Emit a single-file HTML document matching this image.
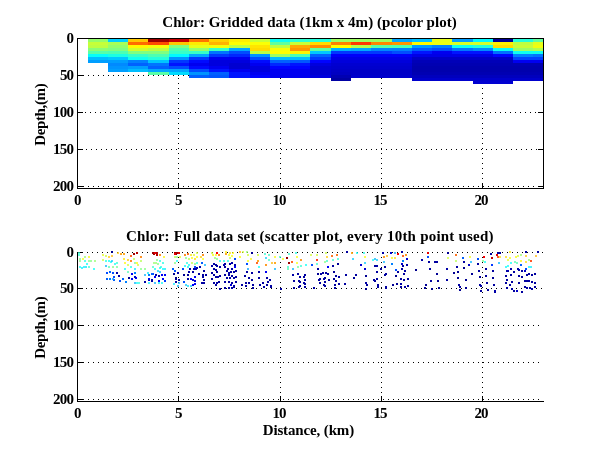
<!DOCTYPE html><html><head><meta charset="utf-8"><title>Chlor</title>
<style>html,body{margin:0;padding:0;background:#fff}svg{display:block}text{font-family:"Liberation Serif",serif;font-weight:bold;fill:#000}</style></head><body>
<svg width="600" height="451" viewBox="0 0 600 451">
<rect width="600" height="451" fill="#fff"/>
<g shape-rendering="crispEdges" stroke="#000" stroke-width="1" stroke-dasharray="1 4" fill="none">
<path d="M78 75.5H543"/>
<path d="M80 112.5H543"/>
<path d="M81 149.5H543"/>
<path d="M78 186.5H543"/>
<path d="M178.5 43V188"/>
<path d="M280.5 43V188"/>
<path d="M381.5 43V188"/>
<path d="M482.5 43V188"/>
</g>
<g shape-rendering="crispEdges" fill="#000">
<rect x="78" y="38" width="5" height="1"/>
<rect x="538" y="38" width="5" height="1"/>
<rect x="78" y="75" width="5" height="1"/>
<rect x="538" y="75" width="5" height="1"/>
<rect x="78" y="112" width="5" height="1"/>
<rect x="538" y="112" width="5" height="1"/>
<rect x="78" y="149" width="5" height="1"/>
<rect x="538" y="149" width="5" height="1"/>
<rect x="78" y="186" width="5" height="1"/>
<rect x="538" y="186" width="5" height="1"/>
<rect x="77" y="183" width="1" height="5"/>
<rect x="77" y="39" width="1" height="5"/>
<rect x="178" y="183" width="1" height="5"/>
<rect x="178" y="39" width="1" height="5"/>
<rect x="280" y="183" width="1" height="5"/>
<rect x="280" y="39" width="1" height="5"/>
<rect x="381" y="183" width="1" height="5"/>
<rect x="381" y="39" width="1" height="5"/>
<rect x="482" y="183" width="1" height="5"/>
<rect x="482" y="39" width="1" height="5"/>
</g>
<g shape-rendering="crispEdges">
<rect x="88" y="39" width="20" height="3" fill="#94ff6b"/>
<rect x="88" y="42" width="20" height="3" fill="#c7ff38"/>
<rect x="88" y="45" width="20" height="3" fill="#bdff42"/>
<rect x="88" y="48" width="20" height="3" fill="#8aff75"/>
<rect x="88" y="51" width="20" height="3" fill="#57ffa8"/>
<rect x="88" y="54" width="20" height="3" fill="#05fffa"/>
<rect x="88" y="57" width="20" height="3" fill="#00bdff"/>
<rect x="88" y="60" width="20" height="3" fill="#009eff"/>
<rect x="108" y="39" width="20" height="3" fill="#00d1ff"/>
<rect x="108" y="42" width="20" height="3" fill="#a8ff57"/>
<rect x="108" y="45" width="20" height="3" fill="#94ff6b"/>
<rect x="108" y="48" width="20" height="3" fill="#80ff80"/>
<rect x="108" y="51" width="20" height="3" fill="#4dffb2"/>
<rect x="108" y="54" width="20" height="3" fill="#1affe5"/>
<rect x="108" y="57" width="20" height="3" fill="#00c7ff"/>
<rect x="108" y="60" width="20" height="3" fill="#009eff"/>
<rect x="108" y="63" width="20" height="3" fill="#008aff"/>
<rect x="108" y="66" width="20" height="3" fill="#0094ff"/>
<rect x="108" y="69" width="20" height="3" fill="#009eff"/>
<rect x="128" y="39" width="20" height="3" fill="#ffc700"/>
<rect x="128" y="42" width="20" height="3" fill="#ff6b00"/>
<rect x="128" y="45" width="20" height="3" fill="#fffa00"/>
<rect x="128" y="48" width="20" height="3" fill="#d1ff2e"/>
<rect x="128" y="51" width="20" height="3" fill="#80ff80"/>
<rect x="128" y="54" width="20" height="3" fill="#38ffc7"/>
<rect x="128" y="57" width="20" height="3" fill="#0ffff0"/>
<rect x="128" y="60" width="20" height="3" fill="#0080ff"/>
<rect x="128" y="63" width="20" height="3" fill="#0061ff"/>
<rect x="128" y="66" width="20" height="3" fill="#009eff"/>
<rect x="128" y="69" width="20" height="3" fill="#00bdff"/>
<rect x="148" y="39" width="21" height="3" fill="#9e0000"/>
<rect x="148" y="42" width="21" height="3" fill="#ff4c00"/>
<rect x="148" y="45" width="21" height="3" fill="#f5ff0a"/>
<rect x="148" y="48" width="21" height="3" fill="#bdff42"/>
<rect x="148" y="51" width="21" height="3" fill="#80ff80"/>
<rect x="148" y="54" width="21" height="3" fill="#4dffb2"/>
<rect x="148" y="57" width="21" height="3" fill="#24ffdb"/>
<rect x="148" y="60" width="21" height="3" fill="#00c7ff"/>
<rect x="148" y="63" width="21" height="3" fill="#0075ff"/>
<rect x="148" y="66" width="21" height="3" fill="#0061ff"/>
<rect x="148" y="69" width="21" height="3" fill="#00a8ff"/>
<rect x="148" y="72" width="21" height="3" fill="#57ffa8"/>
<rect x="169" y="39" width="20" height="3" fill="#c70000"/>
<rect x="169" y="42" width="20" height="3" fill="#ffc700"/>
<rect x="169" y="45" width="20" height="3" fill="#80ff80"/>
<rect x="169" y="48" width="20" height="3" fill="#4dffb2"/>
<rect x="169" y="51" width="20" height="3" fill="#38ffc7"/>
<rect x="169" y="54" width="20" height="3" fill="#00faff"/>
<rect x="169" y="57" width="20" height="3" fill="#0094ff"/>
<rect x="169" y="60" width="20" height="3" fill="#0038ff"/>
<rect x="169" y="63" width="20" height="3" fill="#0014ff"/>
<rect x="169" y="66" width="20" height="3" fill="#004dff"/>
<rect x="169" y="69" width="20" height="3" fill="#00a8ff"/>
<rect x="169" y="72" width="20" height="3" fill="#00dbff"/>
<rect x="189" y="39" width="20" height="3" fill="#ff7500"/>
<rect x="189" y="42" width="20" height="3" fill="#ffeb00"/>
<rect x="189" y="45" width="20" height="3" fill="#e5ff1a"/>
<rect x="189" y="48" width="20" height="3" fill="#94ff6b"/>
<rect x="189" y="51" width="20" height="3" fill="#38ffc7"/>
<rect x="189" y="54" width="20" height="3" fill="#00a8ff"/>
<rect x="189" y="57" width="20" height="3" fill="#0038ff"/>
<rect x="189" y="60" width="20" height="3" fill="#000bff"/>
<rect x="189" y="63" width="20" height="3" fill="#0000f0"/>
<rect x="189" y="66" width="20" height="3" fill="#000bff"/>
<rect x="189" y="69" width="20" height="3" fill="#004dff"/>
<rect x="189" y="72" width="20" height="3" fill="#0094ff"/>
<rect x="189" y="75" width="20" height="3" fill="#0061ff"/>
<rect x="209" y="39" width="20" height="3" fill="#ffd100"/>
<rect x="209" y="42" width="20" height="3" fill="#ffb300"/>
<rect x="209" y="45" width="20" height="3" fill="#f0ff0f"/>
<rect x="209" y="48" width="20" height="3" fill="#38ffc7"/>
<rect x="209" y="51" width="20" height="3" fill="#0075ff"/>
<rect x="209" y="54" width="20" height="3" fill="#0038ff"/>
<rect x="209" y="57" width="20" height="3" fill="#0000f0"/>
<rect x="209" y="60" width="20" height="3" fill="#0000de"/>
<rect x="209" y="63" width="20" height="3" fill="#0000de"/>
<rect x="209" y="66" width="20" height="3" fill="#0000f0"/>
<rect x="209" y="69" width="20" height="3" fill="#0014ff"/>
<rect x="209" y="72" width="20" height="3" fill="#0061ff"/>
<rect x="209" y="75" width="20" height="3" fill="#0057ff"/>
<rect x="229" y="39" width="21" height="3" fill="#fff000"/>
<rect x="229" y="42" width="21" height="3" fill="#ffff00"/>
<rect x="229" y="45" width="21" height="3" fill="#bdff42"/>
<rect x="229" y="48" width="21" height="3" fill="#00a8ff"/>
<rect x="229" y="51" width="21" height="3" fill="#004dff"/>
<rect x="229" y="54" width="21" height="3" fill="#0027ff"/>
<rect x="229" y="57" width="21" height="3" fill="#0000f0"/>
<rect x="229" y="60" width="21" height="3" fill="#0000de"/>
<rect x="229" y="63" width="21" height="3" fill="#0000d1"/>
<rect x="229" y="66" width="21" height="3" fill="#0000d1"/>
<rect x="229" y="69" width="21" height="3" fill="#0000f0"/>
<rect x="229" y="72" width="21" height="3" fill="#0014ff"/>
<rect x="229" y="75" width="21" height="3" fill="#0014ff"/>
<rect x="250" y="39" width="20" height="3" fill="#c7ff38"/>
<rect x="250" y="42" width="20" height="3" fill="#faff05"/>
<rect x="250" y="45" width="20" height="3" fill="#ffe500"/>
<rect x="250" y="48" width="20" height="3" fill="#ffdb00"/>
<rect x="250" y="51" width="20" height="3" fill="#bdff42"/>
<rect x="250" y="54" width="20" height="3" fill="#0094ff"/>
<rect x="250" y="57" width="20" height="3" fill="#004dff"/>
<rect x="250" y="60" width="20" height="3" fill="#000bff"/>
<rect x="250" y="63" width="20" height="3" fill="#0000f0"/>
<rect x="250" y="66" width="20" height="3" fill="#0000de"/>
<rect x="250" y="69" width="20" height="3" fill="#0000de"/>
<rect x="250" y="72" width="20" height="3" fill="#0000f0"/>
<rect x="250" y="75" width="20" height="3" fill="#0003ff"/>
<rect x="270" y="39" width="20" height="3" fill="#0ffff0"/>
<rect x="270" y="42" width="20" height="3" fill="#61ff9e"/>
<rect x="270" y="45" width="20" height="3" fill="#bdff42"/>
<rect x="270" y="48" width="20" height="3" fill="#faff05"/>
<rect x="270" y="51" width="20" height="3" fill="#ffff00"/>
<rect x="270" y="54" width="20" height="3" fill="#9eff61"/>
<rect x="270" y="57" width="20" height="3" fill="#00bdff"/>
<rect x="270" y="60" width="20" height="3" fill="#0061ff"/>
<rect x="270" y="63" width="20" height="3" fill="#0027ff"/>
<rect x="270" y="66" width="20" height="3" fill="#0003ff"/>
<rect x="270" y="69" width="20" height="3" fill="#0000f0"/>
<rect x="270" y="72" width="20" height="3" fill="#0000f0"/>
<rect x="270" y="75" width="20" height="3" fill="#0000f0"/>
<rect x="290" y="39" width="20" height="3" fill="#2effd1"/>
<rect x="290" y="42" width="20" height="3" fill="#c7ff38"/>
<rect x="290" y="45" width="20" height="3" fill="#ffa800"/>
<rect x="290" y="48" width="20" height="3" fill="#ff9400"/>
<rect x="290" y="51" width="20" height="3" fill="#fff500"/>
<rect x="290" y="54" width="20" height="3" fill="#4dffb2"/>
<rect x="290" y="57" width="20" height="3" fill="#00bdff"/>
<rect x="290" y="60" width="20" height="3" fill="#0057ff"/>
<rect x="290" y="63" width="20" height="3" fill="#0014ff"/>
<rect x="290" y="66" width="20" height="3" fill="#0003ff"/>
<rect x="290" y="69" width="20" height="3" fill="#0000f0"/>
<rect x="290" y="72" width="20" height="3" fill="#0000f0"/>
<rect x="290" y="75" width="20" height="3" fill="#0000f0"/>
<rect x="310" y="39" width="21" height="3" fill="#24ffdb"/>
<rect x="310" y="42" width="21" height="3" fill="#ffdb00"/>
<rect x="310" y="45" width="21" height="3" fill="#ff8a00"/>
<rect x="310" y="48" width="21" height="3" fill="#61ff9e"/>
<rect x="310" y="51" width="21" height="3" fill="#00c7ff"/>
<rect x="310" y="54" width="21" height="3" fill="#0061ff"/>
<rect x="310" y="57" width="21" height="3" fill="#0038ff"/>
<rect x="310" y="60" width="21" height="3" fill="#0003ff"/>
<rect x="310" y="63" width="21" height="3" fill="#0000de"/>
<rect x="310" y="66" width="21" height="3" fill="#0000d1"/>
<rect x="310" y="69" width="21" height="3" fill="#0000d1"/>
<rect x="310" y="72" width="21" height="3" fill="#0000d1"/>
<rect x="310" y="75" width="21" height="3" fill="#0000de"/>
<rect x="331" y="39" width="20" height="3" fill="#9eff61"/>
<rect x="331" y="42" width="20" height="3" fill="#ff8000"/>
<rect x="331" y="45" width="20" height="3" fill="#ffff00"/>
<rect x="331" y="48" width="20" height="3" fill="#00b2ff"/>
<rect x="331" y="51" width="20" height="3" fill="#0038ff"/>
<rect x="331" y="54" width="20" height="3" fill="#0000fa"/>
<rect x="331" y="57" width="20" height="3" fill="#0000e6"/>
<rect x="331" y="60" width="20" height="3" fill="#0000db"/>
<rect x="331" y="63" width="20" height="3" fill="#0000d1"/>
<rect x="331" y="66" width="20" height="3" fill="#0000cc"/>
<rect x="331" y="69" width="20" height="3" fill="#0000c7"/>
<rect x="331" y="72" width="20" height="3" fill="#0000c2"/>
<rect x="331" y="75" width="20" height="3" fill="#0000b2"/>
<rect x="331" y="78" width="20" height="3" fill="#0000a3"/>
<rect x="351" y="39" width="20" height="3" fill="#9eff61"/>
<rect x="351" y="42" width="20" height="3" fill="#ff3800"/>
<rect x="351" y="45" width="20" height="3" fill="#b3ff4c"/>
<rect x="351" y="48" width="20" height="3" fill="#00a8ff"/>
<rect x="351" y="51" width="20" height="3" fill="#0038ff"/>
<rect x="351" y="54" width="20" height="3" fill="#0000fa"/>
<rect x="351" y="57" width="20" height="3" fill="#0000e6"/>
<rect x="351" y="60" width="20" height="3" fill="#0000db"/>
<rect x="351" y="63" width="20" height="3" fill="#0000d1"/>
<rect x="351" y="66" width="20" height="3" fill="#0000cc"/>
<rect x="351" y="69" width="20" height="3" fill="#0000c7"/>
<rect x="351" y="72" width="20" height="3" fill="#0000c7"/>
<rect x="351" y="75" width="20" height="3" fill="#0000cc"/>
<rect x="371" y="39" width="21" height="3" fill="#9eff61"/>
<rect x="371" y="42" width="21" height="3" fill="#ff8500"/>
<rect x="371" y="45" width="21" height="3" fill="#57ffa8"/>
<rect x="371" y="48" width="21" height="3" fill="#0085ff"/>
<rect x="371" y="51" width="21" height="3" fill="#0038ff"/>
<rect x="371" y="54" width="21" height="3" fill="#0000fa"/>
<rect x="371" y="57" width="21" height="3" fill="#0000e6"/>
<rect x="371" y="60" width="21" height="3" fill="#0000db"/>
<rect x="371" y="63" width="21" height="3" fill="#0000d1"/>
<rect x="371" y="66" width="21" height="3" fill="#0000cc"/>
<rect x="371" y="69" width="21" height="3" fill="#0000c7"/>
<rect x="371" y="72" width="21" height="3" fill="#0000c7"/>
<rect x="371" y="75" width="21" height="3" fill="#0000cc"/>
<rect x="392" y="39" width="20" height="3" fill="#00a8ff"/>
<rect x="392" y="42" width="20" height="3" fill="#ff9400"/>
<rect x="392" y="45" width="20" height="3" fill="#4dffb2"/>
<rect x="392" y="48" width="20" height="3" fill="#0080ff"/>
<rect x="392" y="51" width="20" height="3" fill="#004dff"/>
<rect x="392" y="54" width="20" height="3" fill="#0000fa"/>
<rect x="392" y="57" width="20" height="3" fill="#0000e6"/>
<rect x="392" y="60" width="20" height="3" fill="#0000db"/>
<rect x="392" y="63" width="20" height="3" fill="#0000d1"/>
<rect x="392" y="66" width="20" height="3" fill="#0000cc"/>
<rect x="392" y="69" width="20" height="3" fill="#0000c7"/>
<rect x="392" y="72" width="20" height="3" fill="#0000c7"/>
<rect x="392" y="75" width="20" height="3" fill="#0000cc"/>
<rect x="412" y="39" width="20" height="3" fill="#00c2ff"/>
<rect x="412" y="42" width="20" height="3" fill="#fffa00"/>
<rect x="412" y="45" width="20" height="3" fill="#0099ff"/>
<rect x="412" y="48" width="20" height="3" fill="#005cff"/>
<rect x="412" y="51" width="20" height="3" fill="#0014ff"/>
<rect x="412" y="54" width="20" height="3" fill="#0000e6"/>
<rect x="412" y="57" width="20" height="3" fill="#0000c7"/>
<rect x="412" y="60" width="20" height="3" fill="#0000b8"/>
<rect x="412" y="63" width="20" height="3" fill="#0000b2"/>
<rect x="412" y="66" width="20" height="3" fill="#0000ad"/>
<rect x="412" y="69" width="20" height="3" fill="#0000ad"/>
<rect x="412" y="72" width="20" height="3" fill="#0000b2"/>
<rect x="412" y="75" width="20" height="3" fill="#0000bd"/>
<rect x="412" y="78" width="20" height="3" fill="#0000cc"/>
<rect x="432" y="39" width="20" height="3" fill="#e5ff1a"/>
<rect x="432" y="42" width="20" height="3" fill="#ebff14"/>
<rect x="432" y="45" width="20" height="3" fill="#0080ff"/>
<rect x="432" y="48" width="20" height="3" fill="#004dff"/>
<rect x="432" y="51" width="20" height="3" fill="#0000f0"/>
<rect x="432" y="54" width="20" height="3" fill="#0000e6"/>
<rect x="432" y="57" width="20" height="3" fill="#0000c7"/>
<rect x="432" y="60" width="20" height="3" fill="#0000b8"/>
<rect x="432" y="63" width="20" height="3" fill="#0000b2"/>
<rect x="432" y="66" width="20" height="3" fill="#0000ad"/>
<rect x="432" y="69" width="20" height="3" fill="#0000ad"/>
<rect x="432" y="72" width="20" height="3" fill="#0000b2"/>
<rect x="432" y="75" width="20" height="3" fill="#0000bd"/>
<rect x="432" y="78" width="20" height="3" fill="#0000cc"/>
<rect x="452" y="39" width="21" height="3" fill="#009eff"/>
<rect x="452" y="42" width="21" height="3" fill="#d6ff29"/>
<rect x="452" y="45" width="21" height="3" fill="#0ffff0"/>
<rect x="452" y="48" width="21" height="3" fill="#0075ff"/>
<rect x="452" y="51" width="21" height="3" fill="#0014ff"/>
<rect x="452" y="54" width="21" height="3" fill="#0000e6"/>
<rect x="452" y="57" width="21" height="3" fill="#0000c7"/>
<rect x="452" y="60" width="21" height="3" fill="#0000b8"/>
<rect x="452" y="63" width="21" height="3" fill="#0000b2"/>
<rect x="452" y="66" width="21" height="3" fill="#0000ad"/>
<rect x="452" y="69" width="21" height="3" fill="#0000ad"/>
<rect x="452" y="72" width="21" height="3" fill="#0000b2"/>
<rect x="452" y="75" width="21" height="3" fill="#0000bd"/>
<rect x="452" y="78" width="21" height="3" fill="#0000cc"/>
<rect x="473" y="39" width="20" height="3" fill="#00faff"/>
<rect x="473" y="42" width="20" height="3" fill="#d1ff2e"/>
<rect x="473" y="45" width="20" height="3" fill="#24ffdb"/>
<rect x="473" y="48" width="20" height="3" fill="#008aff"/>
<rect x="473" y="51" width="20" height="3" fill="#0014ff"/>
<rect x="473" y="54" width="20" height="3" fill="#0000e6"/>
<rect x="473" y="57" width="20" height="3" fill="#0000c7"/>
<rect x="473" y="60" width="20" height="3" fill="#0000b8"/>
<rect x="473" y="63" width="20" height="3" fill="#0000b2"/>
<rect x="473" y="66" width="20" height="3" fill="#0000ad"/>
<rect x="473" y="69" width="20" height="3" fill="#0000ad"/>
<rect x="473" y="72" width="20" height="3" fill="#0000b2"/>
<rect x="473" y="75" width="20" height="3" fill="#0000bd"/>
<rect x="473" y="78" width="20" height="3" fill="#0000cc"/>
<rect x="473" y="81" width="20" height="3" fill="#0000d1"/>
<rect x="493" y="39" width="20" height="3" fill="#000094"/>
<rect x="493" y="42" width="20" height="3" fill="#fff000"/>
<rect x="493" y="45" width="20" height="3" fill="#ffdb00"/>
<rect x="493" y="48" width="20" height="3" fill="#0afff5"/>
<rect x="493" y="51" width="20" height="3" fill="#0070ff"/>
<rect x="493" y="54" width="20" height="3" fill="#0005ff"/>
<rect x="493" y="57" width="20" height="3" fill="#0000c7"/>
<rect x="493" y="60" width="20" height="3" fill="#0000b8"/>
<rect x="493" y="63" width="20" height="3" fill="#0000b2"/>
<rect x="493" y="66" width="20" height="3" fill="#0000ad"/>
<rect x="493" y="69" width="20" height="3" fill="#0000ad"/>
<rect x="493" y="72" width="20" height="3" fill="#0000b2"/>
<rect x="493" y="75" width="20" height="3" fill="#0000bd"/>
<rect x="493" y="78" width="20" height="3" fill="#0000cc"/>
<rect x="493" y="81" width="20" height="3" fill="#0000d1"/>
<rect x="513" y="39" width="20" height="3" fill="#24ffdb"/>
<rect x="513" y="42" width="20" height="3" fill="#bdff42"/>
<rect x="513" y="45" width="20" height="3" fill="#c7ff38"/>
<rect x="513" y="48" width="20" height="3" fill="#9eff61"/>
<rect x="513" y="51" width="20" height="3" fill="#0ffff0"/>
<rect x="513" y="54" width="20" height="3" fill="#0080ff"/>
<rect x="513" y="57" width="20" height="3" fill="#0042ff"/>
<rect x="513" y="60" width="20" height="3" fill="#0000f0"/>
<rect x="513" y="63" width="20" height="3" fill="#0000b2"/>
<rect x="513" y="66" width="20" height="3" fill="#0000ad"/>
<rect x="513" y="69" width="20" height="3" fill="#0000ad"/>
<rect x="513" y="72" width="20" height="3" fill="#0000b2"/>
<rect x="513" y="75" width="20" height="3" fill="#0000bd"/>
<rect x="513" y="78" width="20" height="3" fill="#0000cc"/>
<rect x="533" y="39" width="11" height="3" fill="#61ff9e"/>
<rect x="533" y="42" width="11" height="3" fill="#e5ff1a"/>
<rect x="533" y="45" width="11" height="3" fill="#f0ff0f"/>
<rect x="533" y="48" width="11" height="3" fill="#b3ff4c"/>
<rect x="533" y="51" width="11" height="3" fill="#0ffff0"/>
<rect x="533" y="54" width="11" height="3" fill="#0075ff"/>
<rect x="533" y="57" width="11" height="3" fill="#0042ff"/>
<rect x="533" y="60" width="11" height="3" fill="#0000f0"/>
<rect x="533" y="63" width="11" height="3" fill="#0000b2"/>
<rect x="533" y="66" width="11" height="3" fill="#0000ad"/>
<rect x="533" y="69" width="11" height="3" fill="#0000ad"/>
<rect x="533" y="72" width="11" height="3" fill="#0000b2"/>
<rect x="533" y="75" width="11" height="3" fill="#0000bd"/>
<rect x="533" y="78" width="11" height="3" fill="#0000cc"/>
</g>
<g shape-rendering="crispEdges" fill="#000">
<rect x="77" y="38" width="1" height="151"/>
<rect x="77" y="188" width="467" height="1"/>
<rect x="77" y="38" width="467" height="1"/>
<rect x="543" y="38" width="1" height="151"/>
</g>
<text x="74" y="43" font-size="15" text-anchor="end" textLength="7">0</text>
<text x="74" y="80" font-size="15" text-anchor="end" textLength="14">50</text>
<text x="74" y="117" font-size="15" text-anchor="end" textLength="21">100</text>
<text x="74" y="154" font-size="15" text-anchor="end" textLength="21">150</text>
<text x="74" y="191" font-size="15" text-anchor="end" textLength="21">200</text>
<text x="74.0" y="205" font-size="15" textLength="7">0</text>
<text x="175.0" y="205" font-size="15" textLength="7">5</text>
<text x="272.5" y="205" font-size="15" textLength="14">10</text>
<text x="373.5" y="205" font-size="15" textLength="14">15</text>
<text x="474.5" y="205" font-size="15" textLength="14">20</text>
<g shape-rendering="crispEdges" stroke="#000" stroke-width="1" stroke-dasharray="1 4" fill="none">
<path d="M77 252.5H543"/>
<path d="M81 288.5H543"/>
<path d="M78 325.5H543"/>
<path d="M78 362.5H543"/>
<path d="M78 399.5H543"/>
<path d="M178.5 257V401"/>
<path d="M280.5 257V401"/>
<path d="M381.5 257V401"/>
<path d="M482.5 257V401"/>
</g>
<g shape-rendering="crispEdges" fill="#000">
<rect x="78" y="252" width="5" height="1"/>
<rect x="78" y="288" width="5" height="1"/>
<rect x="78" y="325" width="5" height="1"/>
<rect x="78" y="362" width="5" height="1"/>
<rect x="78" y="399" width="5" height="1"/>
<rect x="77" y="396" width="1" height="5"/>
<rect x="178" y="396" width="1" height="5"/>
<rect x="280" y="396" width="1" height="5"/>
<rect x="381" y="396" width="1" height="5"/>
<rect x="482" y="396" width="1" height="5"/>
</g>
<g shape-rendering="crispEdges" fill="#000">
<rect x="77" y="252" width="1" height="150"/>
<rect x="77" y="401" width="467" height="1"/>
</g>
<text x="74" y="257" font-size="15" text-anchor="end" textLength="7">0</text>
<text x="74" y="293" font-size="15" text-anchor="end" textLength="14">50</text>
<text x="74" y="330" font-size="15" text-anchor="end" textLength="21">100</text>
<text x="74" y="367" font-size="15" text-anchor="end" textLength="21">150</text>
<text x="74" y="404" font-size="15" text-anchor="end" textLength="21">200</text>
<text x="74.0" y="418" font-size="15" textLength="7">0</text>
<text x="175.0" y="418" font-size="15" textLength="7">5</text>
<text x="272.5" y="418" font-size="15" textLength="14">10</text>
<text x="373.5" y="418" font-size="15" textLength="14">15</text>
<text x="474.5" y="418" font-size="15" textLength="14">20</text>
<g shape-rendering="crispEdges">
<path fill="#2effd1" opacity=".7" d="M78 252h2v2h-2zM78 254h2v2h-2zM88 266h2v2h-2zM116 262h2v2h-2zM264 253h2v2h-2zM288 253h2v2h-2zM300 265h2v2h-2zM316 263h2v2h-2zM337 258h2v2h-2z"/>
<path fill="#80ff80" opacity=".7" d="M79 258h2v2h-2zM79 260h2v2h-2zM88 260h2v2h-2zM90 260h2v2h-2zM112 266h2v2h-2zM134 262h2v2h-2zM176 256h2v2h-2zM185 257h2v2h-2zM156 259h2v2h-2zM157 263h2v2h-2zM174 262h2v2h-2zM194 263h2v2h-2zM140 268h2v2h-2zM144 268h2v2h-2zM216 258h2v2h-2zM324 261h2v2h-2zM482 260h2v2h-2z"/>
<path fill="#05fffa" opacity=".7" d="M79 266h2v2h-2zM86 263h2v2h-2zM93 268h2v2h-2zM108 260h2v2h-2zM110 261h2v2h-2zM114 263h2v2h-2zM124 268h2v2h-2zM176 260h2v2h-2zM188 264h2v2h-2zM184 265h2v2h-2zM154 268h2v2h-2zM159 267h2v2h-2zM136 282h2v2h-2zM161 282h2v2h-2zM219 260h2v2h-2zM258 266h2v2h-2zM305 264h2v2h-2zM356 252h2v2h-2zM372 259h2v2h-2zM484 261h2v2h-2zM510 262h2v2h-2zM507 265h2v2h-2z"/>
<path fill="#00f0ff" opacity=".7" d="M81 267h2v2h-2zM83 266h2v2h-2zM134 268h2v2h-2zM187 266h2v2h-2zM164 268h2v2h-2zM147 272h2v2h-2zM148 282h2v2h-2zM158 282h2v2h-2zM173 283h2v2h-2zM530 266h2v2h-2z"/>
<path fill="#faff05" opacity=".7" d="M82 258h2v2h-2zM191 257h2v2h-2zM196 256h2v2h-2zM202 258h2v2h-2zM212 254h2v2h-2zM228 254h2v2h-2zM231 255h2v2h-2zM239 256h2v2h-2zM247 260h2v2h-2zM274 256h2v2h-2zM282 258h2v2h-2zM296 256h2v2h-2zM296 262h2v2h-2zM364 256h2v2h-2zM469 256h2v2h-2zM509 257h2v2h-2zM520 260h2v2h-2z"/>
<path fill="#94ff6b" opacity=".7" d="M84 256h2v2h-2zM94 260h2v2h-2zM153 262h2v2h-2zM155 262h2v2h-2zM246 251h2v2h-2zM214 257h2v2h-2zM520 254h2v2h-2zM528 259h2v2h-2z"/>
<path fill="#1affe5" opacity=".7" d="M84 260h2v2h-2zM105 260h2v2h-2zM130 266h2v2h-2zM159 260h2v2h-2zM162 262h2v2h-2zM186 262h2v2h-2zM160 266h2v2h-2zM138 282h2v2h-2zM223 260h2v2h-2zM227 260h2v2h-2zM196 262h2v2h-2zM295 252h2v2h-2zM363 252h2v2h-2z"/>
<path fill="#00e5ff" opacity=".7" d="M85 266h2v2h-2zM187 285h2v2h-2z"/>
<path fill="#fffa00" opacity=".7" d="M88 256h2v2h-2zM124 262h2v2h-2zM163 256h2v2h-2zM136 262h2v2h-2zM215 254h2v2h-2zM225 251h2v2h-2zM232 252h2v2h-2zM250 258h2v2h-2zM391 257h2v2h-2zM515 256h2v2h-2z"/>
<path fill="#e5ff1a" opacity=".7" d="M102 254h2v2h-2zM193 254h2v2h-2zM179 256h2v2h-2zM507 259h2v2h-2z"/>
<path fill="#d1ff2e" opacity=".7" d="M102 259h2v2h-2zM105 255h2v2h-2zM127 264h2v2h-2zM137 264h2v2h-2zM196 252h2v2h-2zM211 252h2v2h-2zM242 251h2v2h-2zM247 254h2v2h-2zM257 254h2v2h-2zM310 254h2v2h-2zM316 254h2v2h-2zM447 257h2v2h-2zM517 255h2v2h-2z"/>
<path fill="#00b2ff" opacity=".7" d="M105 265h2v2h-2zM134 282h2v2h-2zM159 271h2v2h-2zM144 274h2v2h-2zM154 282h2v2h-2zM178 282h2v2h-2zM177 285h2v2h-2zM204 264h2v2h-2zM274 268h2v2h-2zM292 268h2v2h-2zM374 258h2v2h-2zM383 261h2v2h-2zM470 261h2v2h-2zM498 262h2v2h-2z"/>
<path fill="#ffc700" opacity=".7" d="M108 256h2v2h-2zM117 252h2v2h-2zM127 259h2v2h-2zM200 256h2v2h-2zM326 256h2v2h-2zM525 255h2v2h-2z"/>
<path fill="#4dffb2" opacity=".7" d="M108 266h2v2h-2zM127 271h2v2h-2zM287 268h2v2h-2zM514 261h2v2h-2zM516 262h2v2h-2z"/>
<path fill="#00008c" d="M111 251h2v2h-2zM175 277h2v2h-2zM365 288h2v2h-2zM415 269h2v2h-2zM395 275h2v2h-2zM431 288h2v2h-2zM463 267h2v2h-2z"/>
<path fill="#ffb300" opacity=".7" d="M111 255h2v2h-2zM239 251h2v2h-2zM271 262h2v2h-2zM386 255h2v2h-2zM535 255h2v2h-2z"/>
<path fill="#00d1ff" opacity=".7" d="M111 260h2v2h-2zM157 270h2v2h-2zM265 257h2v2h-2z"/>
<path fill="#6bff94" opacity=".7" d="M116 266h2v2h-2zM297 266h2v2h-2z"/>
<path fill="#004dff" d="M106 272h2v2h-2zM112 272h2v2h-2zM113 276h2v2h-2zM119 280h2v2h-2zM194 266h2v2h-2zM174 270h2v2h-2zM182 268h2v2h-2zM152 273h2v2h-2zM183 281h2v2h-2zM234 258h2v2h-2zM246 263h2v2h-2zM311 264h2v2h-2zM427 256h2v2h-2zM395 269h2v2h-2zM477 258h2v2h-2zM525 268h2v2h-2z"/>
<path fill="#0061ff" d="M109 271h2v2h-2zM106 278h2v2h-2zM113 279h2v2h-2zM122 278h2v2h-2zM172 268h2v2h-2zM151 273h2v2h-2zM201 262h2v2h-2zM462 257h2v2h-2zM520 264h2v2h-2z"/>
<path fill="#0000a8" d="M116 272h2v2h-2zM118 275h2v2h-2zM193 268h2v2h-2zM155 274h2v2h-2zM158 275h2v2h-2zM177 272h2v2h-2zM188 271h2v2h-2zM151 279h2v2h-2zM151 280h2v2h-2zM144 281h2v2h-2zM199 266h2v2h-2zM196 267h2v2h-2zM195 268h2v2h-2zM211 265h2v2h-2zM219 266h2v2h-2zM223 264h2v2h-2zM229 263h2v2h-2zM231 262h2v2h-2zM234 264h2v2h-2zM231 268h2v2h-2zM228 272h2v2h-2zM215 284h2v2h-2zM219 288h2v2h-2zM258 271h2v2h-2zM292 274h2v2h-2zM382 252h2v2h-2zM421 259h2v2h-2zM376 265h2v2h-2zM446 268h2v2h-2zM494 290h2v2h-2zM494 291h2v2h-2zM510 268h2v2h-2zM517 268h2v2h-2zM518 269h2v2h-2zM506 270h2v2h-2zM507 270h2v2h-2z"/>
<path fill="#0080ff" d="M109 278h2v2h-2zM125 281h2v2h-2zM134 272h2v2h-2zM148 274h2v2h-2zM391 263h2v2h-2zM402 260h2v2h-2z"/>
<path fill="#009eff" opacity=".7" d="M112 278h2v2h-2zM247 268h2v2h-2zM394 252h2v2h-2z"/>
<path fill="#ff9e00" opacity=".85" d="M120 253h2v2h-2zM123 253h2v2h-2zM225 253h2v2h-2zM257 260h2v2h-2zM274 262h2v2h-2zM351 252h2v2h-2z"/>
<path fill="#ffe500" opacity=".7" d="M123 258h2v2h-2zM190 254h2v2h-2zM229 252h2v2h-2zM509 251h2v2h-2z"/>
<path fill="#ff4c00" opacity=".85" d="M130 255h2v2h-2zM256 262h2v2h-2zM291 261h2v2h-2zM402 255h2v2h-2z"/>
<path fill="#ff7500" opacity=".85" d="M130 260h2v2h-2z"/>
<path fill="#9e0000" d="M133 253h2v2h-2zM152 252h2v2h-2zM153 253h2v2h-2zM175 253h2v2h-2zM174 252h2v2h-2zM176 252h2v2h-2zM288 262h2v2h-2z"/>
<path fill="#b3ff4c" opacity=".7" d="M133 258h2v2h-2zM174 256h2v2h-2zM188 258h2v2h-2zM140 260h2v2h-2zM455 260h2v2h-2z"/>
<path fill="#0000f5" d="M131 273h2v2h-2zM131 278h2v2h-2zM154 276h2v2h-2zM161 274h2v2h-2zM164 274h2v2h-2zM194 276h2v2h-2zM135 277h2v2h-2zM148 278h2v2h-2zM158 280h2v2h-2zM162 278h2v2h-2zM190 278h2v2h-2zM192 284h2v2h-2zM194 283h2v2h-2zM234 266h2v2h-2zM265 271h2v2h-2zM327 266h2v2h-2z"/>
<path fill="#000094" d="M128 277h2v2h-2zM173 273h2v2h-2zM183 274h2v2h-2zM187 274h2v2h-2zM175 278h2v2h-2zM251 252h2v2h-2zM293 287h2v2h-2zM337 263h2v2h-2zM333 271h2v2h-2zM317 273h2v2h-2zM353 277h2v2h-2zM365 275h2v2h-2zM333 278h2v2h-2zM380 268h2v2h-2zM396 283h2v2h-2zM392 284h2v2h-2zM425 284h2v2h-2zM424 287h2v2h-2zM447 252h2v2h-2zM457 271h2v2h-2zM453 272h2v2h-2zM436 273h2v2h-2zM471 273h2v2h-2zM479 276h2v2h-2zM457 277h2v2h-2zM492 277h2v2h-2zM465 279h2v2h-2zM437 280h2v2h-2zM438 287h2v2h-2zM465 287h2v2h-2zM459 289h2v2h-2z"/>
<path fill="#0000c7" d="M134 276h2v2h-2zM401 263h2v2h-2zM468 264h2v2h-2zM524 270h2v2h-2zM516 290h2v2h-2z"/>
<path fill="#b30000" d="M136 252h2v2h-2zM156 254h2v2h-2zM156 252h2v2h-2z"/>
<path fill="#ff8000" opacity=".85" d="M140 256h2v2h-2zM159 254h2v2h-2zM184 254h2v2h-2zM202 254h2v2h-2zM218 254h2v2h-2z"/>
<path fill="#e50000" d="M154 252h2v2h-2zM174 253h2v2h-2zM178 252h2v2h-2zM427 252h2v2h-2zM496 254h2v2h-2z"/>
<path fill="#ff6100" opacity=".85" d="M187 253h2v2h-2zM331 255h2v2h-2zM455 254h2v2h-2z"/>
<path fill="#ffdb00" opacity=".7" d="M194 258h2v2h-2zM394 257h2v2h-2zM499 256h2v2h-2zM505 256h2v2h-2zM525 261h2v2h-2z"/>
<path fill="#bdff42" opacity=".7" d="M191 262h2v2h-2zM229 257h2v2h-2z"/>
<path fill="#38ffc7" opacity=".7" d="M152 266h2v2h-2zM268 254h2v2h-2zM268 259h2v2h-2zM279 256h2v2h-2zM287 266h2v2h-2zM326 260h2v2h-2zM332 259h2v2h-2z"/>
<path fill="#00faff" opacity=".7" d="M162 268h2v2h-2zM505 266h2v2h-2zM528 266h2v2h-2z"/>
<path fill="#0000a0" d="M189 268h2v2h-2zM192 271h2v2h-2zM178 279h2v2h-2zM187 278h2v2h-2zM175 281h2v2h-2zM213 263h2v2h-2zM215 264h2v2h-2zM216 265h2v2h-2zM224 263h2v2h-2zM224 266h2v2h-2zM227 268h2v2h-2zM203 270h2v2h-2zM213 268h2v2h-2zM215 269h2v2h-2zM216 271h2v2h-2zM211 272h2v2h-2zM226 270h2v2h-2zM230 271h2v2h-2zM233 271h2v2h-2zM235 270h2v2h-2zM246 271h2v2h-2zM251 272h2v2h-2zM198 273h2v2h-2zM202 274h2v2h-2zM205 274h2v2h-2zM202 276h2v2h-2zM213 274h2v2h-2zM215 276h2v2h-2zM217 276h2v2h-2zM219 275h2v2h-2zM224 274h2v2h-2zM228 274h2v2h-2zM231 275h2v2h-2zM226 277h2v2h-2zM229 277h2v2h-2zM233 277h2v2h-2zM235 276h2v2h-2zM244 275h2v2h-2zM248 277h2v2h-2zM211 278h2v2h-2zM203 279h2v2h-2zM251 279h2v2h-2zM201 282h2v2h-2zM203 282h2v2h-2zM213 282h2v2h-2zM218 281h2v2h-2zM216 282h2v2h-2zM224 281h2v2h-2zM228 281h2v2h-2zM231 282h2v2h-2zM235 281h2v2h-2zM233 285h2v2h-2zM245 282h2v2h-2zM248 282h2v2h-2zM241 284h2v2h-2zM245 285h2v2h-2zM252 284h2v2h-2zM224 287h2v2h-2zM228 287h2v2h-2zM231 287h2v2h-2zM233 286h2v2h-2zM252 287h2v2h-2zM258 277h2v2h-2zM266 277h2v2h-2zM269 279h2v2h-2zM267 281h2v2h-2zM262 282h2v2h-2zM259 284h2v2h-2zM266 284h2v2h-2zM270 285h2v2h-2zM263 286h2v2h-2zM270 286h2v2h-2zM280 288h2v2h-2zM297 273h2v2h-2zM304 274h2v2h-2zM299 276h2v2h-2zM303 276h2v2h-2zM293 280h2v2h-2zM298 280h2v2h-2zM299 281h2v2h-2zM304 279h2v2h-2zM303 282h2v2h-2zM304 283h2v2h-2zM299 285h2v2h-2zM298 286h2v2h-2zM304 286h2v2h-2zM313 287h2v2h-2zM332 265h2v2h-2zM317 268h2v2h-2zM346 251h2v2h-2zM374 265h2v2h-2zM322 272h2v2h-2zM325 272h2v2h-2zM320 273h2v2h-2zM327 273h2v2h-2zM335 275h2v2h-2zM338 276h2v2h-2zM345 274h2v2h-2zM355 274h2v2h-2zM324 277h2v2h-2zM319 278h2v2h-2zM323 278h2v2h-2zM318 279h2v2h-2zM328 279h2v2h-2zM335 280h2v2h-2zM324 281h2v2h-2zM319 282h2v2h-2zM373 279h2v2h-2zM374 280h2v2h-2zM338 283h2v2h-2zM344 283h2v2h-2zM334 284h2v2h-2zM323 284h2v2h-2zM324 285h2v2h-2zM365 282h2v2h-2zM366 284h2v2h-2zM334 287h2v2h-2zM401 251h2v2h-2zM402 265h2v2h-2zM406 264h2v2h-2zM428 261h2v2h-2zM434 261h2v2h-2zM384 266h2v2h-2zM401 268h2v2h-2zM404 270h2v2h-2zM397 271h2v2h-2zM429 268h2v2h-2zM376 271h2v2h-2zM385 273h2v2h-2zM384 274h2v2h-2zM403 273h2v2h-2zM376 278h2v2h-2zM400 278h2v2h-2zM403 279h2v2h-2zM407 278h2v2h-2zM430 280h2v2h-2zM400 283h2v2h-2zM377 284h2v2h-2zM377 286h2v2h-2zM385 286h2v2h-2zM385 287h2v2h-2zM400 286h2v2h-2zM404 286h2v2h-2zM407 285h2v2h-2zM490 253h2v2h-2zM436 261h2v2h-2zM463 261h2v2h-2zM477 263h2v2h-2zM456 266h2v2h-2zM485 268h2v2h-2zM478 270h2v2h-2zM492 270h2v2h-2zM485 275h2v2h-2zM446 279h2v2h-2zM486 282h2v2h-2zM458 284h2v2h-2zM459 286h2v2h-2zM479 284h2v2h-2zM480 285h2v2h-2zM493 284h2v2h-2zM487 289h2v2h-2zM480 290h2v2h-2zM497 252h2v2h-2zM499 252h2v2h-2zM525 251h2v2h-2zM537 251h2v2h-2zM513 271h2v2h-2zM521 270h2v2h-2zM510 274h2v2h-2zM505 275h2v2h-2zM518 275h2v2h-2zM521 276h2v2h-2zM526 274h2v2h-2zM528 273h2v2h-2zM531 274h2v2h-2zM534 273h2v2h-2zM506 279h2v2h-2zM524 280h2v2h-2zM526 280h2v2h-2zM528 280h2v2h-2zM531 281h2v2h-2zM534 282h2v2h-2zM511 281h2v2h-2zM505 282h2v2h-2zM518 282h2v2h-2zM509 284h2v2h-2zM524 286h2v2h-2zM526 287h2v2h-2zM529 287h2v2h-2zM531 288h2v2h-2zM534 286h2v2h-2zM506 287h2v2h-2zM511 288h2v2h-2zM513 290h2v2h-2zM521 291h2v2h-2z"/>
<path fill="#0000d6" d="M148 279h2v2h-2zM192 279h2v2h-2zM194 280h2v2h-2zM230 284h2v2h-2zM360 264h2v2h-2zM364 268h2v2h-2zM390 252h2v2h-2zM406 258h2v2h-2z"/>
<path fill="#0038ff" d="M164 280h2v2h-2zM491 264h2v2h-2z"/>
<path fill="#00c7ff" opacity=".7" d="M185 284h2v2h-2zM190 285h2v2h-2zM352 258h2v2h-2zM364 262h2v2h-2zM376 259h2v2h-2z"/>
<path fill="#fa0000" d="M216 252h2v2h-2zM397 253h2v2h-2zM483 256h2v2h-2z"/>
<path fill="#ff8a00" opacity=".85" d="M265 264h2v2h-2zM300 259h2v2h-2zM383 256h2v2h-2zM405 254h2v2h-2z"/>
<path fill="#940000" d="M286 257h2v2h-2z"/>
<path fill="#ff1a00" opacity=".85" d="M316 259h2v2h-2z"/>
<path fill="#c7ff38" opacity=".7" d="M325 252h2v2h-2z"/>
<path fill="#ff6b00" opacity=".85" d="M336 254h2v2h-2z"/>
<path fill="#c70000" d="M491 257h2v2h-2z"/>
<path fill="#ff3800" opacity=".85" d="M497 256h2v2h-2zM530 260h2v2h-2z"/>
</g>
<text x="162.3" y="26.5" font-size="15" textLength="294.5">Chlor: Gridded data (1km x 4m) (pcolor plot)</text>
<text x="126" y="240.5" font-size="15" textLength="367.5">Chlor: Full data set (scatter plot, every 10th point used)</text>
<text x="262.7" y="435" font-size="15" textLength="91.5">Distance, (km)</text>
<text transform="translate(44.7,145.8) rotate(-90)" font-size="15" textLength="62.5">Depth,(m)</text>
<text transform="translate(44.7,358.8) rotate(-90)" font-size="15" textLength="62.5">Depth,(m)</text>
</svg></body></html>
